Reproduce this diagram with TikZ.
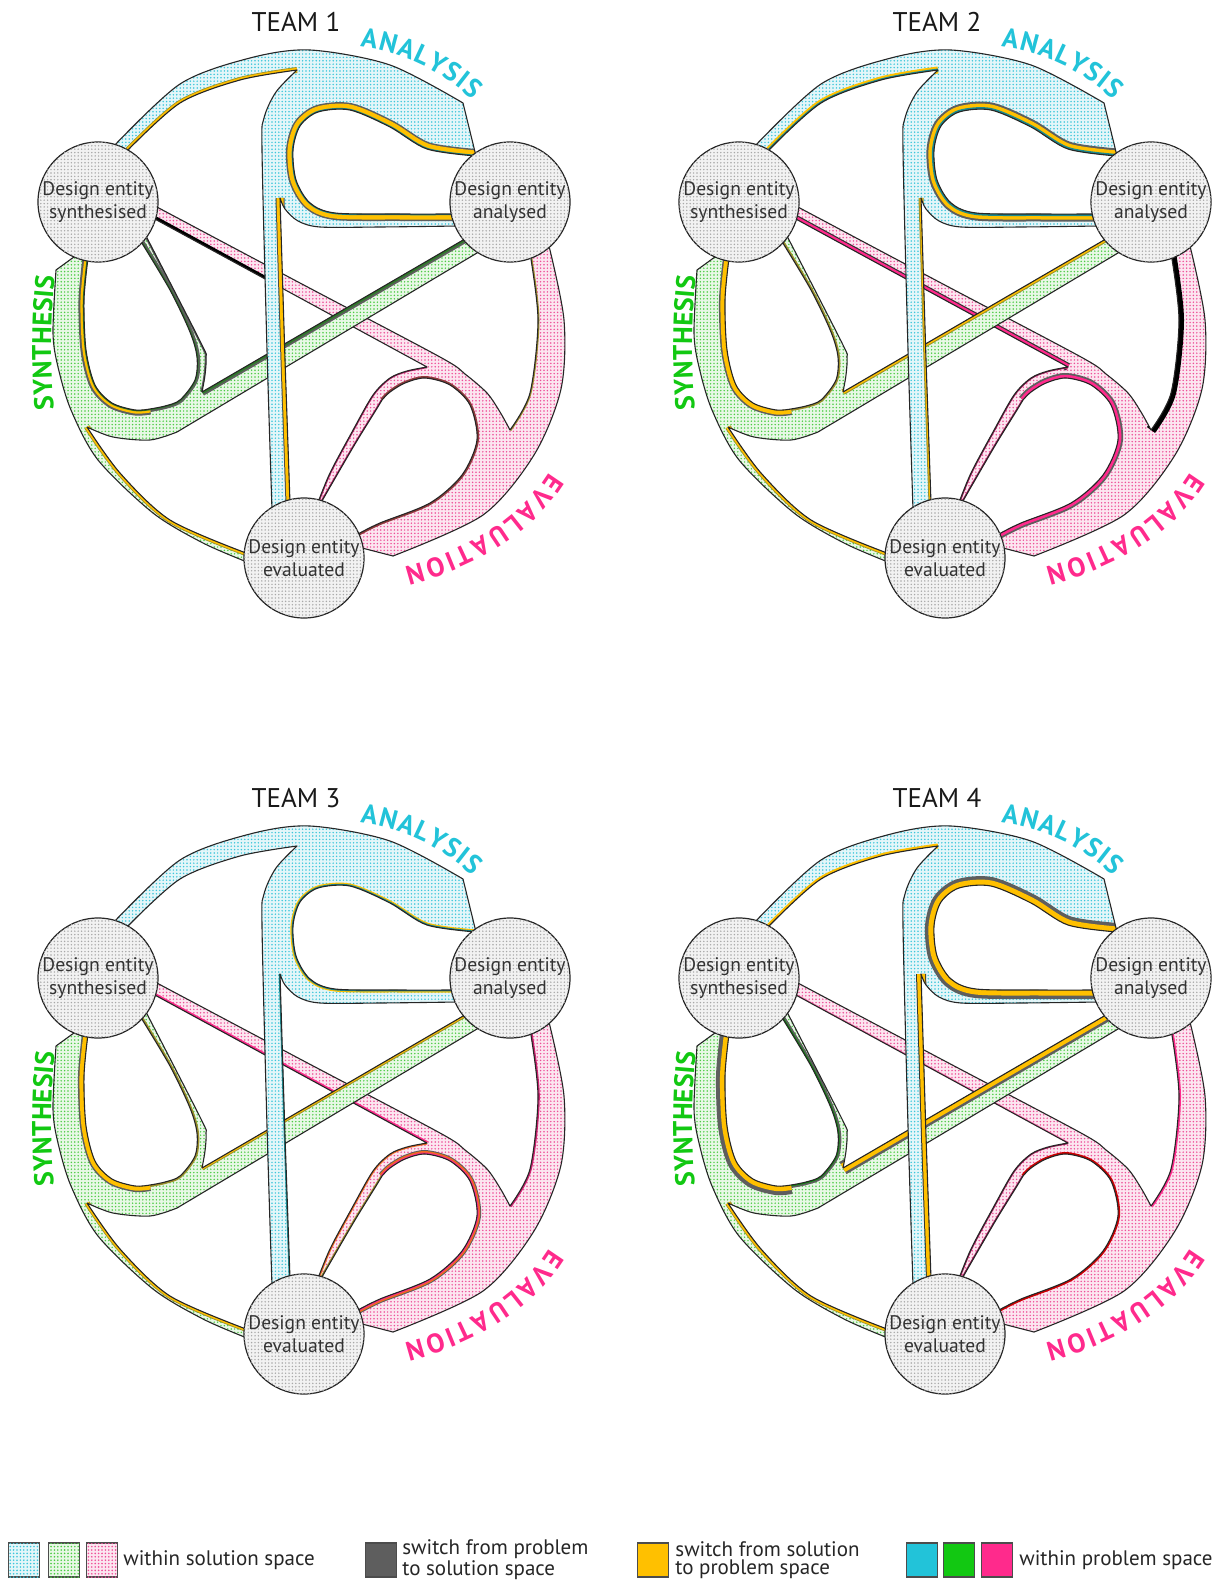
\documentclass[tikz,border=0pt]{standalone}
\usepackage{fontspec}
\setmainfont{PT Sans}
\usetikzlibrary{patterns.meta,decorations.text}
\definecolor{cyc}{HTML}{22C3D9}
\definecolor{grc}{HTML}{12C812}
\definecolor{pkc}{HTML}{FF2A8C}
\definecolor{yel}{HTML}{FFC000}
\definecolor{dgr}{HTML}{5E5E5E}
\definecolor{teal2}{HTML}{1B8A8F}
\definecolor{dgreen}{HTML}{2F7A2A}
\definecolor{olive2}{HTML}{9C8F2A}
\definecolor{brown2}{HTML}{8E3B3B}
\definecolor{orange2}{HTML}{F06A1E}
\definecolor{cybase}{HTML}{E4F6F9}
\definecolor{grbase}{HTML}{E8F8E6}
\definecolor{pkbase}{HTML}{FCE6F0}
\definecolor{cydot}{HTML}{3CC6DA}
\definecolor{grdot}{HTML}{4CCB44}
\definecolor{pkdot}{HTML}{EE4E98}
\definecolor{cibase}{HTML}{F2F2F2}
\definecolor{cidot}{HTML}{A8A8A8}
% ---------- geometry (team-local coordinates, px) ----------
\def\cyOutP{plot[smooth] coordinates {(112,148) (180,84) (250,58) (310,50) (390,65) (463,103)}}
\def\cyHoleP{plot[smooth] coordinates {(476,156) (427,149) (390,127) (350,110) (318,112) (300,126) (293,150) (296,180) (310,203) (335,213) (400,214) (455,214)}}
\def\cyPlowP{plot[smooth] coordinates {(458,226) (380,227) (320,227) (298,221) (285,209) (280,198)}}
\def\cyStemRP{plot coordinates {(280,198) (285,360) (290,503)}}
\def\cyStemLP{plot[smooth] coordinates {(272,510) (267,350) (262,150) (264,118) (276,92) (297,70)}}
\def\cyInP{plot[smooth] coordinates {(297,70) (240,80) (180,103) (128,150)}}
\edef\cyPoly{\cyOutP -- \cyHoleP -- (510,202) -- \cyPlowP -- \cyStemRP -- (304,558) -- \cyStemLP -- \cyInP -- (98,202) -- cycle}
\def\grOutP{plot[smooth] coordinates {(56,270) (53,333) (58,367) (71,410) (98,460) (153,513) (203,543) (247,562)}}
\def\grArcInP{plot[smooth] coordinates {(246,553) (170,520) (120,473) (87,427)}}
\def\grLowP{plot[smooth] coordinates {(87,427) (113,437) (150,440) (177,432)}}
\def\grStemLowP{plot coordinates {(177,432) (482,250)}}
\def\grStemUpP{plot coordinates {(470,236) (202,392)}}
\def\grThinOutP{plot[smooth] coordinates {(202,392) (205,375) (206,357) (201,343) (146,236)}}
\def\grHoleAP{plot[smooth] coordinates {(140,240) (170,290) (190,332) (197,357) (195,380) (180,400) (165,406) (150,409)}}
\def\grHoleBP{plot[smooth] coordinates {(150,409) (135,410) (112,403) (95,385) (86,350) (84,300) (88,258)}}
\edef\grPoly{(78,254) -- \grOutP -- (304,558) -- \grArcInP -- \grLowP -- \grStemLowP -- (510,202) -- \grStemUpP -- \grThinOutP -- (98,202) -- \grHoleAP -- \grHoleBP -- (98,202) -- cycle}
\def\pkStemUpP{plot[smooth] coordinates {(155,206) (300,283) (440,357) (465,374) (487,393) (500,412) (510,430)}}
\def\pkArcInP{plot[smooth] coordinates {(510,430) (530,393) (538,320) (530,253)}}
\def\pkOutP{plot[smooth] coordinates {(549,246) (564,320) (561,389) (534,455) (483,515) (393,556)}}
\def\pkHoleAP{plot[smooth] coordinates {(358,534) (380,523) (430,503) (462,475) (477,440) (470,405) (450,385) (425,378) (405,383) (390,392) (382,400)}}
\def\pkHoleBP{plot[smooth] coordinates {(382,400) (376,410) (355,444) (330,487) (318,508)}}
\def\pkThinOutP{plot[smooth] coordinates {(317,505) (330,473) (352,432) (373,395) (390,378) (407,371) (427,367)}}
\def\pkStemLowP{plot coordinates {(427,367) (153,218)}}
\def\pkStemLowPartP{plot coordinates {(153,218) (265,279)}}
\edef\pkPoly{\pkStemUpP -- \pkArcInP -- (510,202) -- \pkOutP -- (362,548) -- (304,558) -- \pkHoleAP -- \pkHoleBP -- (304,558) -- \pkThinOutP -- \pkStemLowP -- (98,202) -- cycle}
% ---------- coloured edge lines (drawn clipped inside a band) ----------
\newcommand\el[3]{\draw[#1,line width=#2pt,line join=round]#3;}
\expandafter\def\csname cydeco1\endcsname{\el{olive2}{3}\cyInP\el{yel}{2.2}\cyInP
  \el{dgr}{7}\cyHoleP\el{yel}{5.5}\cyHoleP\el{teal2}{1.2}\cyHoleP
  \el{black!70}{4.5}\cyStemRP\el{yel}{3.5}\cyStemRP}
\expandafter\def\csname grdeco1\endcsname{\el{dgr}{3}\grHoleAP\el{dgreen}{1.3}\grHoleAP\el{dgr}{1.5}\grThinOutP
  \el{dgr}{5.5}\grHoleBP\el{yel}{3.5}\grHoleBP\el{dgreen}{1.2}\grHoleBP
  \el{dgr}{4}\grStemUpP\el{dgreen}{2.2}\grStemUpP
  \el{olive2}{3}\grArcInP\el{yel}{2.2}\grArcInP}
\expandafter\def\csname pkdeco1\endcsname{\el{black}{3}\pkStemLowPartP\el{brown2}{2}\pkHoleAP
  \el{pkc!70!black}{1.2}\pkHoleBP\el{pkc!70!black}{1.2}\pkThinOutP\el{olive2}{1.5}\pkArcInP}
\expandafter\def\csname cydeco2\endcsname{\el{yel}{3.5}\cyInP\el{teal2}{1.5}\cyInP
  \el{dgr}{7.5}\cyHoleP\el{yel}{5.5}\cyHoleP\el{teal2}{2}\cyHoleP
  \el{olive2}{2.5}\cyStemRP\el{yel}{1.5}\cyStemRP}
\expandafter\def\csname grdeco2\endcsname{\el{olive2}{2}\grHoleAP
  \el{dgr}{6}\grHoleBP\el{yel}{4.5}\grHoleBP
  \el{olive2}{3}\grStemUpP\el{yel}{2}\grStemUpP
  \el{olive2}{3}\grArcInP\el{yel}{2.2}\grArcInP}
\expandafter\def\csname pkdeco2\endcsname{\el{black!80}{4}\pkStemLowP\el{pkc}{2.8}\pkStemLowP
  \el{dgr}{5}\pkHoleAP\el{pkc}{3.2}\pkHoleAP
  \el{pkc!60!black}{1.2}\pkHoleBP\el{pkc!60!black}{1.2}\pkThinOutP\el{black}{5}\pkArcInP}
\expandafter\def\csname cydeco3\endcsname{\el{yel}{2.5}\cyHoleP\el{teal2}{1.3}\cyHoleP\el{teal2}{1.3}\cyStemRP}
\expandafter\def\csname grdeco3\endcsname{\el{olive2}{2}\grHoleAP
  \el{dgr}{6}\grHoleBP\el{yel}{4.5}\grHoleBP
  \el{olive2}{2.5}\grStemUpP\el{yel}{1.5}\grStemUpP
  \el{olive2}{2.8}\grArcInP\el{yel}{2}\grArcInP}
\expandafter\def\csname pkdeco3\endcsname{\el{pkc}{2}\pkStemLowP
  \el{dgr}{4}\pkHoleAP\el{orange2}{3}\pkHoleAP\el{pkc}{1.5}\pkHoleAP
  \el{olive2}{1.5}\pkHoleBP\el{orange2}{1.5}\pkThinOutP\el{pkc!80!black}{1.8}\pkArcInP}
\expandafter\def\csname cydeco4\endcsname{\el{yel}{2.5}\cyInP
  \el{dgr}{9}\cyHoleP\el{yel}{5.5}\cyHoleP
  \el{black!80}{5}\cyStemRP\el{yel}{4}\cyStemRP}
\expandafter\def\csname grdeco4\endcsname{\el{dgr}{3}\grHoleAP\el{grc!70!black}{1.3}\grHoleAP
  \el{dgr}{9}\grHoleBP\el{yel}{5}\grHoleBP
  \el{dgr}{7}\grStemUpP\el{yel}{4.5}\grStemUpP
  \el{olive2}{3}\grArcInP\el{yel}{2.2}\grArcInP}
\expandafter\def\csname pkdeco4\endcsname{\el{pkc!70}{1.2}\pkStemLowP\el{red!80!black}{2}\pkHoleAP
  \el{pkc!60!black}{1.2}\pkHoleBP\el{pkc!60!black}{1.2}\pkThinOutP\el{pkc}{2}\pkArcInP}
% ---------- one team ----------
\newcommand\lbf{\fontsize{13.5}{13.5}\selectfont\bfseries}
\newcommand\bandlayer[4]{% poly, base, dot, deco
  \fill[#2] #1;
  \fill[pattern={Dots[distance=1.7pt,radius=0.42pt]},pattern color=#3] #1;
  \begin{scope}\clip #1; \csname #4\endcsname\end{scope}
  \draw[band] #1;}
\newcommand\drawteam[3]{%
\begin{scope}[shift={(#2,#3)}]
  \bandlayer{\pkPoly}{pkbase}{pkdot}{pkdeco#1}
  \bandlayer{\grPoly}{grbase}{grdot}{grdeco#1}
  \bandlayer{\cyPoly}{cybase}{cydot}{cydeco#1}
  \node[circ] (s#1) at (98,202) {Design entity\\synthesised};
  \node[circ] (a#1) at (510,202) {Design entity\\analysed};
  \node[circ] (e#1) at (304,558) {Design entity\\evaluated};
  \node[ttl] (t#1) at (296,22) {TEAM #1};
  \path[decorate,decoration={text along path,text={|\lbf|ANALYSIS},text align={fit to path},text color=cyc}]
    (360,47) .. controls (397,51) and (440,69) .. (472,100);
  \path[decorate,decoration={text along path,text={|\lbf|SYNTHESIS},text align={fit to path},text color=grc}]
    (54,409) .. controls (50,368) and (50,318) .. (55,276);
  \path[decorate,decoration={text along path,text={|\lbf|EVALUATION},text align={fit to path},text color=pkc}]
    (549,472) .. controls (523,514) and (476,548) .. (404,567);
\end{scope}}
\tikzset{
  band/.style={draw=black!85,line width=0.55pt,line join=round},
  circ/.style={circle,draw=black!85,line width=0.6pt,minimum size=60pt,inner sep=0pt,fill=cibase,
    postaction={pattern={Dots[distance=1.7pt,radius=0.4pt]},pattern color=cidot},
    align=center,text=black!80,font=\fontsize{9.8}{11.8}\selectfont},
  ttl/.style={font=\fontsize{13.5}{14}\selectfont,text=black!90,inner sep=0pt},
  lsq/.style={draw=black!70,line width=0.6pt,minimum width=15.5pt,minimum height=17pt,inner sep=0pt},
  ltx/.style={anchor=west,font=\fontsize{10.5}{9.2}\selectfont,align=left,inner sep=0pt,text=black!85},
}
\begin{document}
\begin{tikzpicture}[x=0.5pt,y=-0.5pt]
\useasboundingbox (0,0) rectangle (1220,1584);
\fill[white] (0,0) rectangle (1220,1584);
\drawteam{1}{0}{0}
\drawteam{2}{641}{0}
\drawteam{3}{0}{776}
\drawteam{4}{641}{776}
% legend
\node[lsq,fill=cybase,postaction={pattern={Dots[distance=1.7pt,radius=0.45pt]},pattern color=cydot}] (q1) at (24,1560) {};
\node[lsq,fill=grbase,postaction={pattern={Dots[distance=1.7pt,radius=0.45pt]},pattern color=grdot}] (q2) at (64,1560) {};
\node[lsq,fill=pkbase,postaction={pattern={Dots[distance=1.7pt,radius=0.45pt]},pattern color=pkdot}] (q3) at (102,1560) {};
\node[ltx] (l1) at (123,1560) {within solution space};
\node[lsq,fill=dgr] (q4) at (381,1560) {};
\node[ltx] (l2) at (402,1560) {switch from problem\\to solution space};
\node[lsq,fill=yel] (q5) at (653,1560) {};
\node[ltx] (l3) at (675,1560) {switch from solution\\to problem space};
\node[lsq,fill=cyc] (q6) at (922,1560) {};
\node[lsq,fill=grc] (q7) at (959,1560) {};
\node[lsq,fill=pkc] (q8) at (997,1560) {};
\node[ltx] (l4) at (1019,1560) {within problem space};
\end{tikzpicture}
\end{document}
